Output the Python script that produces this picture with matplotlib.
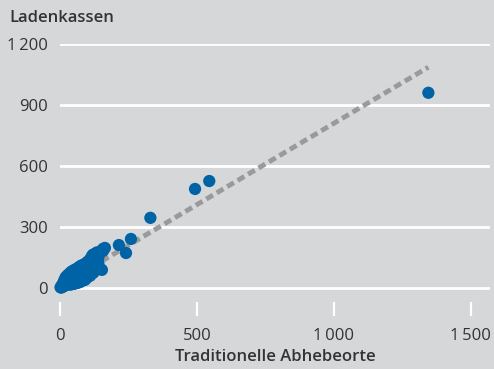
import matplotlib
matplotlib.use("Agg")
import matplotlib.pyplot as plt
from matplotlib.ticker import FixedLocator, FixedFormatter

plt.rcParams['font.family'] = ['Open Sans', 'DejaVu Sans']

# Traditional cash points vs. in-store cash-back points, per region
x_vals = [2, 5, 5, 8, 8, 12, 12, 15, 15, 18, 18, 22, 22, 25, 25, 28, 28, 32, 32,
          35, 35, 38, 38, 42, 42, 45, 45, 48, 48, 52, 52, 55, 55, 58, 58, 62, 62,
          65, 65, 68, 68, 72, 72, 75, 75, 78, 78, 82, 82, 85, 85, 88, 88, 91, 91,
          95, 95, 98, 98, 102, 102, 106, 106, 110, 110, 114, 114, 118, 118, 122, 122,
          126, 126, 130, 130, 135, 135, 140, 140, 146, 153, 157, 157, 164,
          215, 241, 259, 330, 493, 545, 1345]
y_vals = [3, 8, 2, 15, 5, 25, 8, 35, 10, 45, 12, 55, 15, 40, 18, 62, 25, 68, 20,
          50, 30, 75, 16, 80, 40, 60, 22, 85, 35, 88, 20, 70, 45, 92, 28, 95, 50,
          78, 25, 100, 40, 105, 60, 85, 30, 110, 45, 112, 70, 95, 38, 115, 55, 118, 40,
          100, 75, 125, 50, 130, 65, 110, 85, 140, 60, 150, 80, 160, 100, 165, 75,
          140, 90, 168, 110, 175, 95, 150, 120, 177, 89, 182, 192, 197,
          211, 172, 241, 345, 487, 526, 960]

# Fitted trend line
fit_intercept = 10
fit_slope = 0.80
fit_x = [0, 1345]

x_ticks = [0, 500, 1000, 1500]
x_labels = ['0', '500', '1\u2009000', '1\u2009500']
y_ticks = [0, 300, 600, 900, 1200]
y_labels = ['0', '300', '600', '900', '1\u2009200']

bg = '#d6d7d9'
text_col = '#333333'

fig = plt.figure(figsize=(4.94, 3.69), dpi=100, facecolor=bg)
W, H = 494, 369
left, right, top, bottom = 60, 490, 44, 302
ax = fig.add_axes([left / W, 1 - bottom / H, (right - left) / W, (bottom - top) / H])
ax.set_facecolor(bg)

ax.set_xlim(0, 1570)
ax.set_ylim(-69, 1200)

for s in ax.spines.values():
    s.set_visible(False)

ax.yaxis.set_major_locator(FixedLocator(y_ticks))
ax.yaxis.set_major_formatter(FixedFormatter(y_labels))
ax.xaxis.set_major_locator(FixedLocator(x_ticks))
ax.xaxis.set_major_formatter(FixedFormatter(x_labels))

ax.grid(axis='y', color='white', linewidth=2.0, zorder=0)
ax.set_axisbelow(True)

ax.tick_params(axis='y', length=0, pad=9, labelsize=12, labelcolor=text_col)
ax.tick_params(axis='x', direction='out', length=10, width=1.6, color='white',
               pad=9, labelsize=12, labelcolor=text_col)

fit_y = [fit_intercept + fit_slope * v for v in fit_x]
ax.plot(fit_x, fit_y, color='#9a9a9a', linewidth=3.5, dashes=(1.6, 0.9),
        solid_capstyle='butt', dash_capstyle='butt', zorder=2)

ax.scatter(x_vals, y_vals, s=78, color='#0063a6', edgecolors='none', zorder=3,
           clip_on=False)

ax.set_xlabel('Traditionelle Abhebeorte', fontsize=12, color=text_col,
              fontweight='semibold', labelpad=3)
fig.text(9 / W, 1 - 18 / H, 'Ladenkassen', fontsize=12, color=text_col,
         fontweight='semibold', ha='left', va='center')

fig.savefig('out.png', dpi=100, facecolor=bg)
